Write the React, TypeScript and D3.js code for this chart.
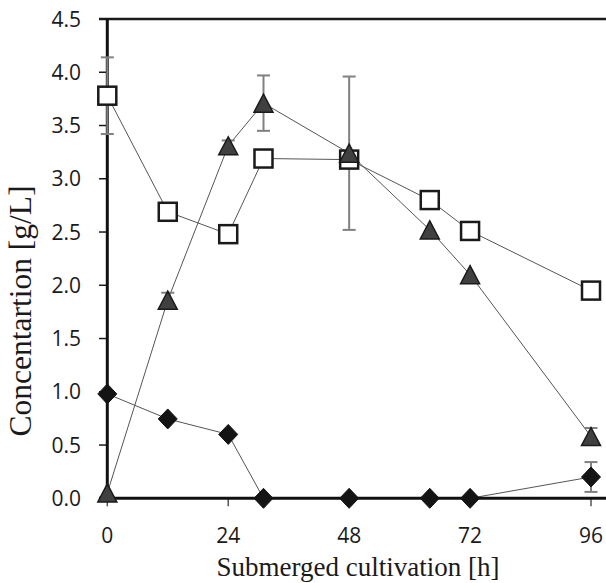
import { useRef, useEffect } from "react";
import * as d3 from "d3";

// sampling times [h]
const hours = [0, 12, 24, 31, 48, 64, 72, 96];
// open squares
const squareVals = [3.78, 2.69, 2.48, 3.19, 3.18, 2.8, 2.51, 1.95];
const squareErr = [0.36, 0, 0, 0, 0, 0, 0, 0];
// grey triangles
const triangleVals = [0.05, 1.86, 3.31, 3.71, 3.24, 2.52, 2.1, 0.58];
const triangleErr = [0, 0.07, 0.05, 0.26, 0.72, 0, 0, 0.08];
// black diamonds
const diamondVals = [0.98, 0.745, 0.6, 0, 0, 0, 0, 0.2];
const diamondErr = [0, 0, 0, 0, 0, 0, 0, 0.14];

const xTicks = [0, 24, 48, 72, 96];
const yTicks = [0, 0.5, 1, 1.5, 2, 2.5, 3, 3.5, 4, 4.5];

const W = 606;
const H = 583;

export default function App() {
  const svgRef = useRef<SVGSVGElement>(null);

  useEffect(() => {
    const svg = d3.select(svgRef.current);
    svg.selectAll("*").remove();

    const x = d3.scaleLinear().domain([0, 96]).range([107.3, 591]);
    const y = d3.scaleLinear().domain([0, 4.5]).range([498.3, 19]);
    const left = 99;
    const right = W;

    // top border
    svg.append("line").attr("x1", left).attr("x2", right)
      .attr("y1", y(4.5)).attr("y2", y(4.5))
      .attr("stroke", "#1a1a1a").attr("stroke-width", 2.5);

    // y ticks + labels
    const yg = svg.append("g");
    yTicks.forEach((t) => {
      yg.append("line").attr("x1", left).attr("x2", x(0))
        .attr("y1", y(t)).attr("y2", y(t))
        .attr("stroke", "#1a1a1a").attr("stroke-width", 1.5);
      yg.append("text").attr("x", 81).attr("y", y(t) + 7.5)
        .attr("text-anchor", "end")
        .attr("font-family", "Open Sans, sans-serif").attr("font-size", 21)
        .attr("fill", "#1a1a1a").text(d3.format(".1f")(t));
    });

    // x ticks + labels
    const xg = svg.append("g");
    xTicks.forEach((t) => {
      xg.append("line").attr("x1", x(t)).attr("x2", x(t))
        .attr("y1", y(0)).attr("y2", y(0) + 8)
        .attr("stroke", "#555").attr("stroke-width", 1.5);
      xg.append("text").attr("x", x(t)).attr("y", 543)
        .attr("text-anchor", "middle")
        .attr("font-family", "Open Sans, sans-serif").attr("font-size", 21)
        .attr("fill", "#1a1a1a").text(t);
    });

    // axis titles
    svg.append("text").attr("x", 358).attr("y", 576)
      .attr("text-anchor", "middle")
      .attr("font-family", "Liberation Serif, serif").attr("font-size", 27)
      .attr("fill", "#1a1a1a").text("Submerged cultivation [h]");
    svg.append("text")
      .attr("transform", "translate(31,311) rotate(-90)")
      .attr("text-anchor", "middle")
      .attr("font-family", "Liberation Serif, serif").attr("font-size", 31.5)
      .attr("fill", "#1a1a1a").text("Concentartion [g/L]");

    const series = [squareVals, triangleVals, diamondVals];
    const errs = [squareErr, triangleErr, diamondErr];

    // connecting lines
    const lineGen = d3.line<number>()
      .x((_, i) => x(hours[i]))
      .y((d) => y(d));
    series.forEach((s) => {
      svg.append("path").attr("d", lineGen(s))
        .attr("fill", "none").attr("stroke", "#555").attr("stroke-width", 1);
    });

    // axis lines
    svg.append("line").attr("x1", left).attr("x2", right)
      .attr("y1", y(0)).attr("y2", y(0))
      .attr("stroke", "#111").attr("stroke-width", 3);
    svg.append("line").attr("x1", x(0)).attr("x2", x(0))
      .attr("y1", y(4.5)).attr("y2", y(0))
      .attr("stroke", "#111").attr("stroke-width", 3);

    // error bars
    series.forEach((s, k) => {
      s.forEach((v, i) => {
        const e = errs[k][i];
        if (!e) return;
        const cx = x(hours[i]);
        const g = svg.append("g").attr("stroke", "#808080").attr("stroke-width", 2);
        g.append("line").attr("x1", cx).attr("x2", cx)
          .attr("y1", y(v + e)).attr("y2", y(v - e));
        [v + e, v - e].forEach((b) => {
          g.append("line").attr("x1", cx - 6.5).attr("x2", cx + 6.5)
            .attr("y1", y(b)).attr("y2", y(b));
        });
      });
    });

    // markers
    squareVals.forEach((v, i) => {
      svg.append("rect")
        .attr("x", x(hours[i]) - 9).attr("y", y(v) - 9)
        .attr("width", 18).attr("height", 18)
        .attr("fill", "#fff").attr("stroke", "#1a1a1a").attr("stroke-width", 2.5);
    });
    triangleVals.forEach((v, i) => {
      const cx = x(hours[i]);
      const cy = y(v);
      const p = d3.path();
      p.moveTo(cx, cy - 9);
      p.lineTo(cx + 9.5, cy + 9);
      p.lineTo(cx - 9.5, cy + 9);
      p.closePath();
      svg.append("path").attr("d", p.toString())
        .attr("fill", "#404040").attr("stroke", "#1a1a1a").attr("stroke-width", 1.5);
    });
    diamondVals.forEach((v, i) => {
      const cx = x(hours[i]);
      const cy = y(v);
      const p = d3.path();
      p.moveTo(cx, cy - 10);
      p.lineTo(cx + 9.5, cy);
      p.lineTo(cx, cy + 10);
      p.lineTo(cx - 9.5, cy);
      p.closePath();
      svg.append("path").attr("d", p.toString())
        .attr("fill", "#141414").attr("stroke", "#141414").attr("stroke-width", 1);
    });
  }, []);

  return (
    <svg
      ref={svgRef}
      width={W}
      height={H}
      style={{ position: "absolute", left: 0, top: 0, background: "#fff" }}
    />
  );
}
